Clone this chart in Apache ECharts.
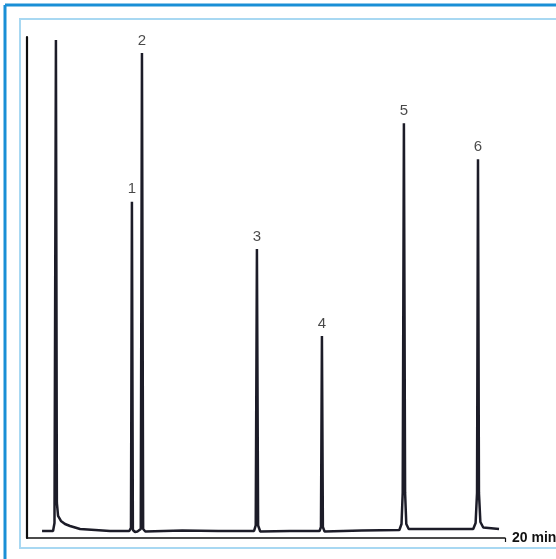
<!DOCTYPE html>
<html>
<head>
<meta charset="utf-8">
<script src="https://cdn.jsdelivr.net/npm/echarts@6/dist/echarts.min.js"></script>
<style>
html,body{margin:0;padding:0;background:#fff;}
#c{width:556px;height:559px;}
</style>
</head>
<body>
<div id="c"></div>
<script>
// Chromatogram trace (time in minutes, detector signal in arbitrary units)
var timeMin = [0.63, 1.09, 1.15, 1.21, 1.25, 1.30, 1.42, 1.59, 1.80, 2.22, 2.85, 3.47,
  4.28, 4.35, 4.39, 4.43, 4.52,
  4.62, 4.76, 4.81, 4.86, 4.95,
  6.5, 8.0,
  9.50, 9.57, 9.62, 9.67, 9.76,
  11.0,
  12.24, 12.30, 12.34, 12.38, 12.45,
  14.0,
  15.58, 15.67, 15.72, 15.77, 15.82, 15.87, 15.97,
  17.5,
  18.67, 18.77, 18.83, 18.87, 18.91, 18.97, 19.09,
  19.75];
var signal = [1.4, 1.4, 3.0, 99.4, 7.0, 4.4, 3.4, 2.8, 2.4, 1.8, 1.6, 1.4,
  1.4, 2.0, 67.1, 1.6, 1.2,
  1.3, 1.8, 96.8, 1.8, 1.3,
  1.5, 1.4,
  1.4, 2.5, 57.7, 2.5, 1.3,
  1.4,
  1.4, 2.2, 40.3, 2.2, 1.3,
  1.5,
  1.6, 2.8, 9, 82.8, 9, 2.8, 1.8,
  1.8,
  1.8, 3.0, 9, 75.6, 9, 3.2, 2.1,
  1.8];
// Peak numbers and their apex positions
var peakLabels = ['1', '2', '3', '4', '5', '6'];
var peakTimes = [4.39, 4.81, 9.62, 12.34, 15.77, 18.87];
var peakHeights = [67.1, 96.8, 57.7, 40.3, 82.8, 75.6];
var xAxisName = '20 min';

var trace = timeMin.map(function (t, i) { return [t, signal[i]]; });
var peaks = peakTimes.map(function (t, i) { return { value: [t, peakHeights[i]], name: peakLabels[i] }; });

var chart = echarts.init(document.getElementById('c'), null, { renderer: 'canvas' });
chart.setOption({
  animation: false,
  backgroundColor: '#ffffff',
  graphic: [
    { type: 'rect', shape: { x: 20, y: 19, width: 560, height: 529 }, style: { fill: 'none', stroke: '#a8d8f2', lineWidth: 2 }, z: 0 },
    { type: 'line', shape: { x1: 5, y1: 5, x2: 560, y2: 5 }, style: { stroke: '#1a8fd6', lineWidth: 3 } },
    { type: 'line', shape: { x1: 5, y1: 5, x2: 5, y2: 565 }, style: { stroke: '#1a8fd6', lineWidth: 3 } }
  ],
  grid: { left: 27, right: 51, top: 37, bottom: 21, containLabel: false, outerBoundsMode: 'none' },
  xAxis: {
    type: 'value', min: 0, max: 20, interval: 20,
    name: xAxisName, nameLocation: 'end', nameGap: 7,
    nameTextStyle: { fontFamily: 'Liberation Sans', fontWeight: 'bold', fontSize: 14, color: '#111', verticalAlign: 'middle', padding: [2, 0, 0, 0] },
    axisLine: { show: true, lineStyle: { color: '#111', width: 1.5 } },
    axisTick: { show: true, customValues: [20], length: 4, lineStyle: { color: '#111', width: 1.2 } },
    axisLabel: { show: false },
    splitLine: { show: false }
  },
  yAxis: {
    type: 'value', min: 0, max: 100,
    axisLine: { show: true, lineStyle: { color: '#0d0d0d', width: 2.2 } },
    axisTick: { show: false },
    axisLabel: { show: false },
    splitLine: { show: false }
  },
  series: [
    {
      type: 'line', data: trace, showSymbol: false, smooth: false,
      lineStyle: { color: '#1c1c28', width: 2.5 }, z: 3
    },
    {
      type: 'scatter', data: peaks, symbolSize: 0,
      label: {
        show: true, position: 'top', distance: 5,
        formatter: function (p) { return p.name; },
        fontFamily: 'Liberation Sans', fontSize: 15, color: '#1a1a1a'
      }
    }
  ]
});
</script>
</body>
</html>
